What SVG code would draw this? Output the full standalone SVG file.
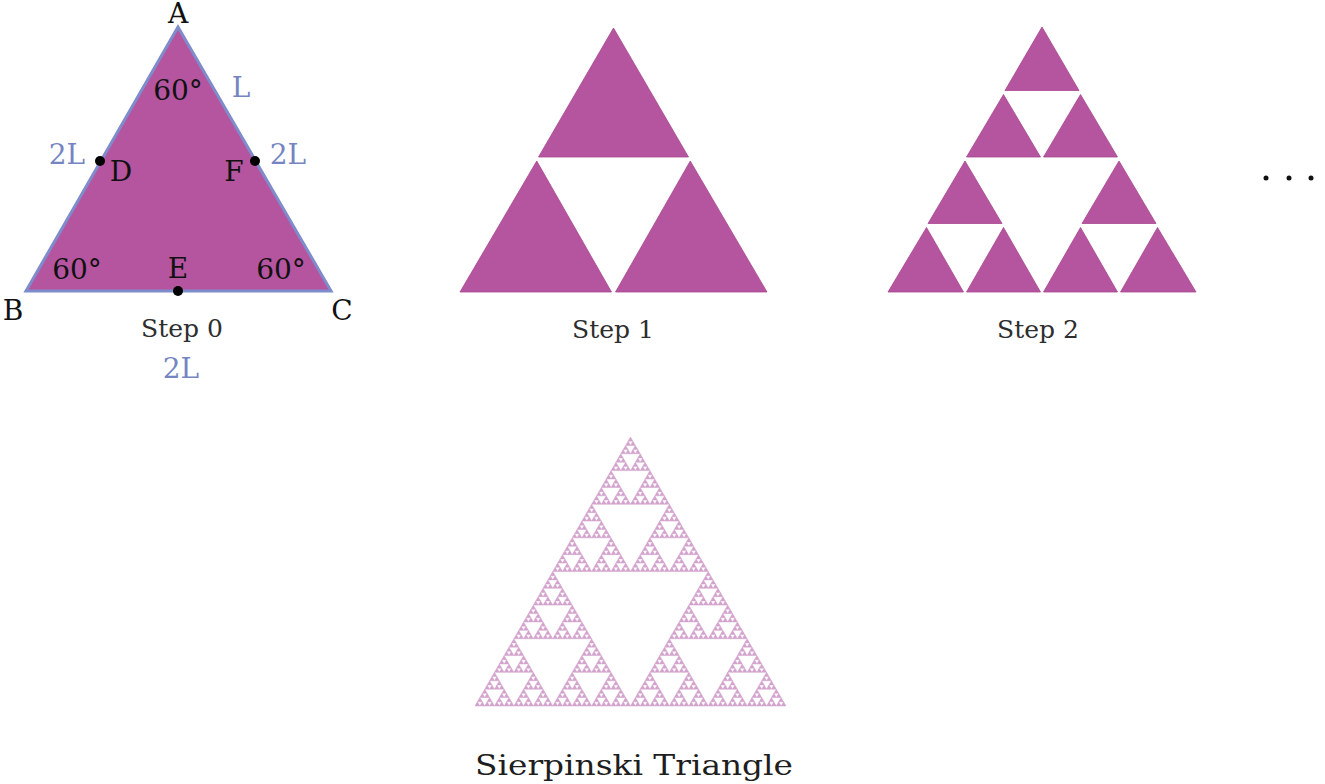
<svg xmlns="http://www.w3.org/2000/svg" xmlns:xlink="http://www.w3.org/1999/xlink" width="1325" height="784" viewBox="0 0 1325 784">
<style>
.tri{fill:#b5559f;stroke:#a8468f;stroke-width:0.8;stroke-linejoin:miter}
.lbl{font-family:"DejaVu Serif","Liberation Serif",serif;font-size:28px;fill:#111}
.blue{font-family:"DejaVu Serif","Liberation Serif",serif;font-size:28px;fill:#7585c2}
.cap{font-family:"DejaVu Serif","Liberation Serif",serif;font-size:25px;fill:#2e2e2e;text-anchor:middle}
.pt{fill:#000}
.frac{fill:#d3a3cd;stroke:#d3a3cd;stroke-width:0.5px;vector-effect:non-scaling-stroke}
</style>
<defs>
<path id="L0" class="frac" d="M0.5,0 L1,0.866 L0,0.866Z"/>
<g id="L1"><use xlink:href="#L0" transform="translate(0.25,0) scale(0.5)"/><use xlink:href="#L0" transform="translate(0,0.433) scale(0.5)"/><use xlink:href="#L0" transform="translate(0.5,0.433) scale(0.5)"/></g>
<g id="L2"><use xlink:href="#L1" transform="translate(0.25,0) scale(0.5)"/><use xlink:href="#L1" transform="translate(0,0.433) scale(0.5)"/><use xlink:href="#L1" transform="translate(0.5,0.433) scale(0.5)"/></g>
<g id="L3"><use xlink:href="#L2" transform="translate(0.25,0) scale(0.5)"/><use xlink:href="#L2" transform="translate(0,0.433) scale(0.5)"/><use xlink:href="#L2" transform="translate(0.5,0.433) scale(0.5)"/></g>
<g id="L4"><use xlink:href="#L3" transform="translate(0.25,0) scale(0.5)"/><use xlink:href="#L3" transform="translate(0,0.433) scale(0.5)"/><use xlink:href="#L3" transform="translate(0.5,0.433) scale(0.5)"/></g>
<g id="L5"><use xlink:href="#L4" transform="translate(0.25,0) scale(0.5)"/><use xlink:href="#L4" transform="translate(0,0.433) scale(0.5)"/><use xlink:href="#L4" transform="translate(0.5,0.433) scale(0.5)"/></g>
<g id="L6"><use xlink:href="#L5" transform="translate(0.25,0) scale(0.5)"/><use xlink:href="#L5" transform="translate(0,0.433) scale(0.5)"/><use xlink:href="#L5" transform="translate(0.5,0.433) scale(0.5)"/></g>
</defs>
<rect width="1325" height="784" fill="#fff"/>

<g id="step0">
<polygon points="178,27 331,291 26,291" fill="#b5559f" stroke="#7f8ccc" stroke-width="3" stroke-linejoin="miter"/>
<text class="lbl" x="178" y="23" text-anchor="middle">A</text>
<text class="lbl" x="178" y="100" text-anchor="middle">60°</text>
<text class="blue" x="241" y="97" text-anchor="middle">L</text>
<text class="blue" x="67" y="164" text-anchor="middle">2L</text>
<text class="blue" x="288" y="164" text-anchor="middle">2L</text>
<circle class="pt" cx="100" cy="161" r="5"/>
<circle class="pt" cx="255" cy="161" r="5"/>
<circle class="pt" cx="178" cy="291" r="5"/>
<text class="lbl" x="121" y="181" text-anchor="middle">D</text>
<text class="lbl" x="234" y="181" text-anchor="middle">F</text>
<text class="lbl" x="77" y="279" text-anchor="middle">60°</text>
<text class="lbl" x="178" y="278" text-anchor="middle">E</text>
<text class="lbl" x="281" y="279" text-anchor="middle">60°</text>
<text class="lbl" x="13" y="320" text-anchor="middle">B</text>
<text class="lbl" x="342" y="320" text-anchor="middle">C</text>
<text class="cap" x="182" y="337">Step 0</text>
<text class="blue" x="181" y="378" text-anchor="middle">2L</text>
</g>

<g id="step1">
<polygon class="tri" points="613.5,28 688.5,157 538.5,157"/>
<polygon class="tri" points="536.75,161 611.5,292 460,292"/>
<polygon class="tri" points="690.25,161 767,292 615.5,292"/>
<text class="cap" x="613" y="338">Step 1</text>
</g>

<g id="step2">
<polygon class="tri" points="1042,27 1079,90.5 1005,90.5"/>
<polygon class="tri" points="1003.5,94.5 1040.5,157 966.5,157"/>
<polygon class="tri" points="1080.5,94.5 1117.5,157 1043.5,157"/>
<polygon class="tri" points="965,161 1002,223.5 928,223.5"/>
<polygon class="tri" points="926.5,227.5 963.5,292 888,292"/>
<polygon class="tri" points="1003.5,227.5 1040.5,292 966.5,292"/>
<polygon class="tri" points="1119,161 1156,223.5 1082,223.5"/>
<polygon class="tri" points="1080.5,227.5 1117.5,292 1043.5,292"/>
<polygon class="tri" points="1157.5,227.5 1196,292 1120.5,292"/>
<text class="cap" x="1038" y="338">Step 2</text>
</g>

<g id="ellipsis">
<circle cx="1266" cy="178" r="2.5" fill="#111"/>
<circle cx="1289" cy="178" r="2.5" fill="#111"/>
<circle cx="1311" cy="178" r="2.5" fill="#111"/>
</g>

<g id="sierpinski">
<use xlink:href="#L6" transform="translate(475,437) scale(311,310.6)"/>
<text class="cap" x="634" y="775" style="font-size:28px;fill:#1e1e1e" textLength="318" lengthAdjust="spacingAndGlyphs">Sierpinski Triangle</text>
</g>

<g id="connectors"></g>
</svg>
